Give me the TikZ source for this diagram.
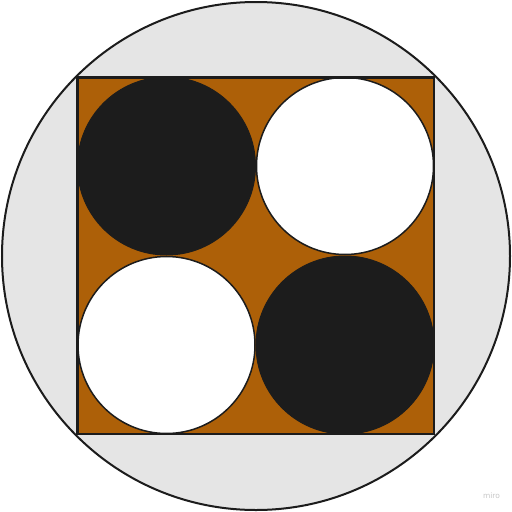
\documentclass[tikz,border=0pt]{standalone}
\usepackage{fontspec}
\setmainfont{DejaVu Sans}
\definecolor{brownfill}{RGB}{173,96,8}
\definecolor{grayfill}{RGB}{229,229,229}
\definecolor{darkfill}{RGB}{28,28,28}
\definecolor{lineclr}{RGB}{28,28,28}
\begin{document}
\begin{tikzpicture}[x=1pt,y=-1pt,
  outer/.style={draw=lineclr,line width=2pt,fill=grayfill},
  board/.style={draw=lineclr,line width=2.5pt,fill=brownfill},
  blackdisc/.style={fill=darkfill,draw=darkfill,line width=1pt},
  whitedisc/.style={fill=white,draw=lineclr,line width=1.5pt}]
\useasboundingbox (0,0) rectangle (512,512);
\fill[white] (0,0) rectangle (512,512);
\draw[outer] (256,256) circle (254);
\draw[board] (77.5,77.5) rectangle (434,434);
\draw[blackdisc] (166.5,166) circle (89);
\draw[whitedisc] (345,166) circle (88.5);
\draw[whitedisc] (166.5,345) circle (88.5);
\draw[blackdisc] (345,345) circle (89);
\draw[lineclr,line width=2.5pt] (77.5,77.5) rectangle (434,434);
\node[text=black!22,font=\fontsize{7.5}{9}\selectfont,inner sep=0pt] (miro) at (491.5,496) {miro};
\end{tikzpicture}
\end{document}
